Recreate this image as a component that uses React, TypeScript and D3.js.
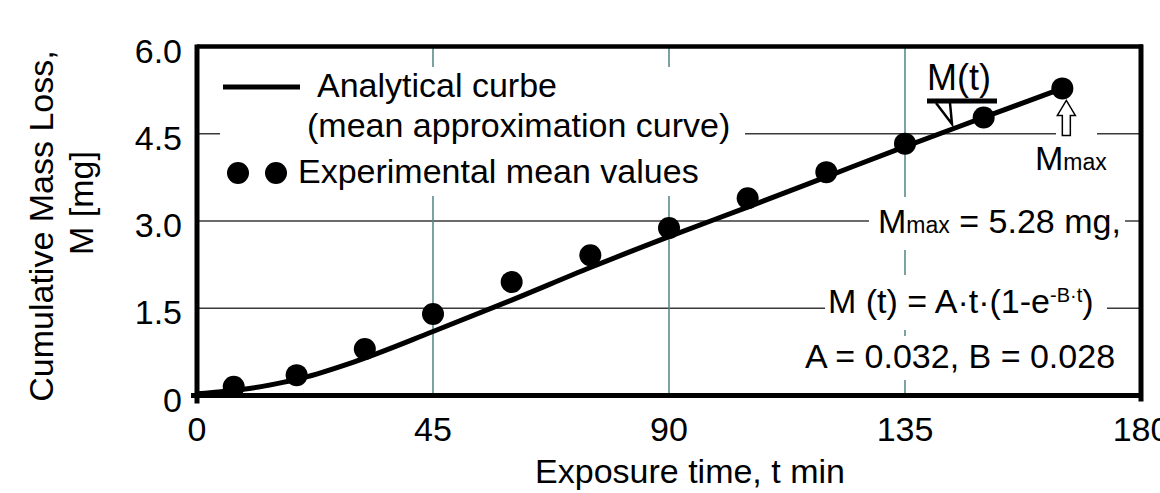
import * as d3 from "d3";

// axis ticks
const xTicks = [0, 45, 90, 135, 180];
const yTicks = [0, 1.5, 3.0, 4.5, 6.0];
const yTickLabels = ["0", "1.5", "3.0", "4.5", "6.0"];

// experimental mean values
const expTime = [7, 19, 32, 45, 60, 75, 90, 105, 120, 135, 150, 165];
const expMass = [0.15, 0.35, 0.8, 1.4, 1.95, 2.41, 2.88, 3.39, 3.84, 4.33, 4.78, 5.28];

// analytical curve
const curveTime = [0, 5, 10, 15, 20, 30, 45, 60, 75, 90, 105, 120, 135, 150, 165];
const curveMass = [0.03, 0.07, 0.12, 0.2, 0.3, 0.58, 1.1, 1.64, 2.2, 2.73, 3.24, 3.76, 4.28, 4.78, 5.28];

const font = "'Liberation Sans', Arial, sans-serif";

export default function App() {
  const width = 1160;
  const height = 493;
  const left = 197;
  const right = 1141;
  const top = 46.5;
  const bottom = 395.5;

  const x = d3.scaleLinear([0, 180], [left, right]);
  const y = d3.scaleLinear([0, 6], [bottom, top]);

  const line = d3
    .line<number>((d, i) => x(curveTime[i]), (d) => y(d))
    .curve(d3.curveMonotoneX);

  const last = expTime.length - 1;
  const mx = x(expTime[last]);
  const my = y(expMass[last]);

  return (
    <svg
      width={width}
      height={height}
      style={{ position: "absolute", left: 0, top: 0, background: "#fff" }}
      fontFamily={font}
    >
      {/* grid */}
      {yTicks.slice(1, -1).map((v) => (
        <line key={"h" + v} x1={left} x2={right} y1={y(v)} y2={y(v)} stroke="#3a3a3a" strokeWidth={1.5} />
      ))}
      {xTicks.slice(1, -1).map((v) => (
        <line key={"v" + v} x1={x(v)} x2={x(v)} y1={top} y2={bottom} stroke="#4f8585" strokeWidth={1.5} />
      ))}

      {/* white boxes behind texts */}
      <rect x={220} y={67} width={525} height={129} fill="#fff" />
      <rect x={1056} y={126} width={41} height={50} fill="#fff" />
      <rect x={869} y={197} width={256} height={53} fill="#fff" />
      <rect x={825} y={275} width={282} height={55} fill="#fff" />
      <rect x={800} y={336} width={332} height={44} fill="#fff" />

      {/* frame */}
      <line x1={left} x2={left} y1={top - 2} y2={bottom + 8} stroke="#000" strokeWidth={5} />
      <line x1={left - 6} x2={right + 2} y1={bottom} y2={bottom} stroke="#000" strokeWidth={5} />
      <line x1={right} x2={right} y1={top - 2} y2={bottom + 6} stroke="#000" strokeWidth={5} />
      <line x1={left} x2={right + 2} y1={top} y2={top} stroke="#000" strokeWidth={4.5} />

      {/* curve and points */}
      <path d={line(curveMass) ?? ""} fill="none" stroke="#000" strokeWidth={5} strokeLinejoin="round" />
      {expTime.map((t, i) => (
        <circle key={t} cx={x(t)} cy={y(expMass[i])} r={11} fill="#000" />
      ))}

      {/* tick labels */}
      {yTicks.map((v, i) => (
        <text key={"yl" + v} x={182} y={y(v) + 16} fontSize={34} textAnchor="end">
          {yTickLabels[i]}
        </text>
      ))}
      {xTicks.map((v) => (
        <text key={"xl" + v} x={x(v)} y={441} fontSize={34} textAnchor="middle">
          {v}
        </text>
      ))}

      {/* axis titles */}
      <text x={690} y={483} fontSize={34} textAnchor="middle">
        Exposure time, t min
      </text>
      <text transform="translate(53,226) rotate(-90)" fontSize={34} textAnchor="middle">
        Cumulative Mass Loss,
      </text>
      <text transform="translate(93,203) rotate(-90)" fontSize={34} textAnchor="middle">
        M [mg]
      </text>

      {/* legend */}
      <line x1={223} x2={300} y1={87} y2={87} stroke="#000" strokeWidth={5} />
      <text x={317} y={97} fontSize={34}>Analytical curbe</text>
      <text x={307} y={137} fontSize={34}>(mean approximation curve)</text>
      <circle cx={238} cy={173} r={11} fill="#000" />
      <circle cx={276} cy={173} r={11} fill="#000" />
      <text x={298} y={183} fontSize={34}>Experimental mean values</text>

      {/* M(t) annotation */}
      <text x={927} y={90} fontSize={36}>M(t)</text>
      <line x1={927} x2={997} y1={101} y2={101} stroke="#000" strokeWidth={5} />
      <path d="M936,103 L952,124 L950,103" fill="none" stroke="#000" strokeWidth={2.5} />

      {/* Mmax arrow */}
      <path
        d={`M${mx + 4},${my + 12} l9,15 h-5 v20 h-8 v-20 h-5 Z`}
        fill="#fff"
        stroke="#000"
        strokeWidth={1.5}
      />
      <text x={1035} y={170} fontSize={34}>
        M<tspan fontSize={23}>max</tspan>
      </text>

      {/* formula block */}
      <text x={878} y={233} fontSize={34}>
        M<tspan fontSize={23}>max</tspan> = 5.28 mg,
      </text>
      <text x={828} y={313} fontSize={34}>
        M (t) = A·t·(1-e<tspan fontSize={20} dy={-11}>-B·t</tspan>
        <tspan dy={11}>)</tspan>
      </text>
      <text x={805} y={368} fontSize={34}>
        A = 0.032, B = 0.028
      </text>
    </svg>
  );
}
